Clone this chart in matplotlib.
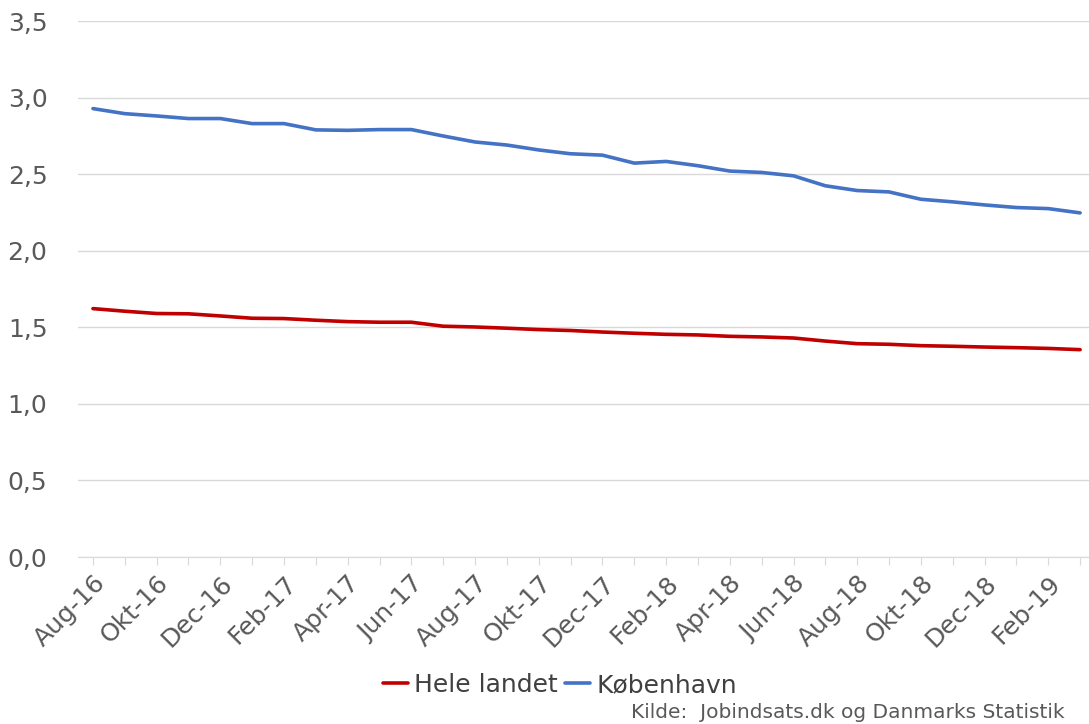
import matplotlib
matplotlib.use("Agg")
import matplotlib.pyplot as plt

# data, månedlig aug-16 til mar-19
months = ["Aug-16", "Sep-16", "Okt-16", "Nov-16", "Dec-16", "Jan-17", "Feb-17", "Mar-17",
          "Apr-17", "Maj-17", "Jun-17", "Jul-17", "Aug-17", "Sep-17", "Okt-17", "Nov-17",
          "Dec-17", "Jan-18", "Feb-18", "Mar-18", "Apr-18", "Maj-18", "Jun-18", "Jul-18",
          "Aug-18", "Sep-18", "Okt-18", "Nov-18", "Dec-18", "Jan-19", "Feb-19", "Mar-19"]

hele_landet = [1.622, 1.605, 1.590, 1.588, 1.574, 1.559, 1.557, 1.546,
               1.537, 1.533, 1.533, 1.507, 1.502, 1.494, 1.485, 1.479,
               1.469, 1.461, 1.454, 1.450, 1.441, 1.437, 1.430, 1.410,
               1.393, 1.389, 1.380, 1.376, 1.371, 1.367, 1.362, 1.354]

koebenhavn = [2.928, 2.895, 2.880, 2.863, 2.863, 2.830, 2.830, 2.789,
              2.786, 2.791, 2.791, 2.749, 2.710, 2.690, 2.658, 2.633,
              2.624, 2.572, 2.583, 2.555, 2.520, 2.511, 2.489, 2.424,
              2.393, 2.384, 2.336, 2.319, 2.299, 2.282, 2.275, 2.247]

y_ticks = [0, 0.5, 1.0, 1.5, 2.0, 2.5, 3.0, 3.5]

plt.rcParams['font.family'] = ['DejaVu Sans']

fig = plt.figure(figsize=(10.89, 7.24), dpi=100)
ax = fig.add_axes([78 / 1089, 1 - 557 / 724, (1089 - 78) / 1089, (557 - 21) / 724])

x = list(range(len(months)))
ax.plot(x, hele_landet, color='#C00000', lw=2.6, label='Hele landet', solid_capstyle='round')
ax.plot(x, koebenhavn, color='#4472C4', lw=2.6, label='København', solid_capstyle='round')

ax.set_ylim(0, 3.5)
ax.set_xlim(-0.47, 31.28)
ax.set_yticks(y_ticks)
ax.set_yticklabels([f"{v:.1f}".replace('.', ',') for v in y_ticks], fontsize=18, color='#595959')
ax.grid(axis='y', color='#D9D9D9', lw=1)
ax.set_axisbelow(True)

ax.set_xticks(x)
ax.set_xticklabels([m if i % 2 == 0 else '' for i, m in enumerate(months)],
                   rotation=45, ha='right', rotation_mode='anchor', fontsize=18, color='#595959')
ax.tick_params(axis='x', length=6, color='#D9D9D9', pad=4)
ax.tick_params(axis='y', length=0, pad=22)

for s in ['top', 'right', 'left']:
    ax.spines[s].set_visible(False)
ax.spines['bottom'].set_color('#D9D9D9')

leg = fig.legend(loc='center', bbox_to_anchor=(560 / 1089, 1 - 685 / 724), ncol=2, frameon=False,
                 fontsize=18, handlelength=1.0, handletextpad=0.25, columnspacing=0.3)
for t in leg.get_texts():
    t.set_color('#404040')

fig.text(1065 / 1089, 1 - 712 / 724, "Kilde:  Jobindsats.dk og Danmarks Statistik",
         ha='right', va='center', fontsize=14.5, color='#595959')

fig.savefig("out.png", dpi=100)
